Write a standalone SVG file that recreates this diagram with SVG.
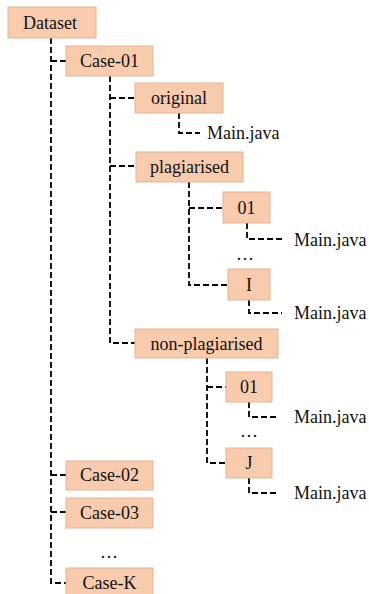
<svg xmlns="http://www.w3.org/2000/svg" width="369" height="594" viewBox="0 0 369 594">
<style>
.box{fill:#F8CBAD;stroke:#E3B594;stroke-width:1}
.t{font-family:"Liberation Serif","Times New Roman",serif;font-size:18px;fill:#111}
.c{text-anchor:middle}
.ln{fill:none;stroke:#000;stroke-width:1.8;stroke-dasharray:6,3}
</style>
<rect width="369" height="594" fill="#fff"/>
<g id="connectors">
<path class="ln" d="M51,38V583H66"/>
<path class="ln" d="M51,61H66"/>
<path class="ln" d="M51,475H66"/>
<path class="ln" d="M51,512H66"/>
<path class="ln" d="M110,76V343H135"/>
<path class="ln" d="M110,98H135"/>
<path class="ln" d="M110,166H136"/>
<path class="ln" d="M179,113V133H200"/>
<path class="ln" d="M189,182V285H228"/>
<path class="ln" d="M189,208H223"/>
<path class="ln" d="M247,223V239H283"/>
<path class="ln" d="M249,300V313H282"/>
<path class="ln" d="M207,358V463H226"/>
<path class="ln" d="M207,387H226"/>
<path class="ln" d="M249,402V417H278"/>
<path class="ln" d="M249,478V493H278"/>
</g>
<g id="dataset"><rect class="box" x="8" y="7" width="88" height="31"/><text class="t c" x="50" y="29">Dataset</text></g>
<g id="case01"><rect class="box" x="66" y="46" width="87" height="30"/><text class="t c" x="109.5" y="67">Case-01</text></g>
<g id="original"><rect class="box" x="135" y="83" width="88" height="30"/><text class="t c" x="179" y="104">original</text></g>
<g id="main1"><text class="t" x="207" y="139">Main.java</text></g>
<g id="plagiarised"><rect class="box" x="136" y="152" width="107" height="30"/><text class="t c" x="189.5" y="173">plagiarised</text></g>
<g id="p01"><rect class="box" x="223" y="192" width="47" height="31"/><text class="t c" x="246.5" y="214">01</text></g>
<g id="main2"><text class="t" x="294" y="246">Main.java</text></g>
<g id="dots1"><text class="t c" x="245" y="260">…</text></g>
<g id="pI"><rect class="box" x="228" y="269" width="42" height="31"/><text class="t c" x="249" y="291">I</text></g>
<g id="main3"><text class="t" x="294" y="319">Main.java</text></g>
<g id="nonplag"><rect class="box" x="135" y="329" width="143" height="29"/><text class="t c" x="206.5" y="350">non-plagiarised</text></g>
<g id="n01"><rect class="box" x="226" y="372" width="46" height="30"/><text class="t c" x="249" y="393">01</text></g>
<g id="main4"><text class="t" x="294" y="423">Main.java</text></g>
<g id="dots2"><text class="t c" x="249" y="437">…</text></g>
<g id="nJ"><rect class="box" x="226" y="448" width="46" height="30"/><text class="t c" x="249" y="469">J</text></g>
<g id="main5"><text class="t" x="294" y="499">Main.java</text></g>
<g id="case02"><rect class="box" x="66" y="461" width="87" height="29"/><text class="t c" x="109.5" y="481">Case-02</text></g>
<g id="case03"><rect class="box" x="66" y="498" width="87" height="30"/><text class="t c" x="109.5" y="519">Case-03</text></g>
<g id="dots3"><text class="t c" x="109" y="558">…</text></g>
<g id="caseK"><rect class="box" x="66" y="568" width="87" height="30"/><text class="t c" x="109.5" y="589">Case-K</text></g>
</svg>
